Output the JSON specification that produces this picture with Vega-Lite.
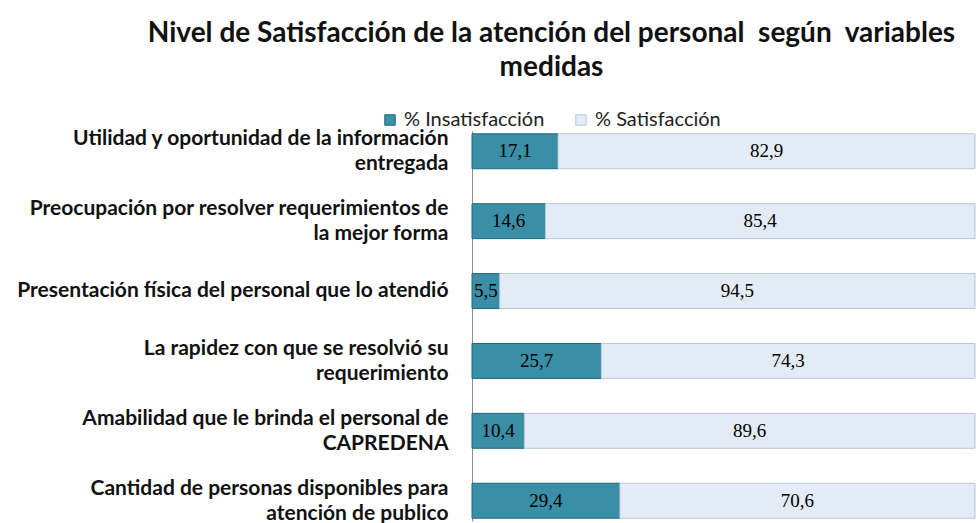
{
  "$schema": "https://vega.github.io/schema/vega-lite/v6.json",
  "width": 503,
  "height": 390,
  "autosize": {"type": "none"},
  "padding": {"left": 472, "top": 131, "right": 4, "bottom": 2},
  "background": "white",
  "config": {
    "view": {"stroke": null},
    "locale": {"number": {"decimal": ",", "thousands": ".", "grouping": [3], "currency": ["", " €"]}},
    "font": "Lato"
  },
  "title": {
    "text": ["Nivel de Satisfacción de la atención del personal \u00a0según \u00a0variables", "medidas"],
    "font": "Lato",
    "fontSize": 28,
    "fontWeight": "bold",
    "color": "#111111",
    "anchor": "middle",
    "frame": "group",
    "dx": -172,
    "offset": 28,
    "lineHeight": 34
  },
  "data": {
    "values": [
      {"variable": "Utilidad y oportunidad de la información\nentregada", "tipo": "% Insatisfacción", "valor": 17.1},
      {"variable": "Utilidad y oportunidad de la información\nentregada", "tipo": "% Satisfacción", "valor": 82.9},
      {"variable": "Preocupación por resolver requerimientos de\nla mejor forma", "tipo": "% Insatisfacción", "valor": 14.6},
      {"variable": "Preocupación por resolver requerimientos de\nla mejor forma", "tipo": "% Satisfacción", "valor": 85.4},
      {"variable": "Presentación física del personal que lo atendió", "tipo": "% Insatisfacción", "valor": 5.5},
      {"variable": "Presentación física del personal que lo atendió", "tipo": "% Satisfacción", "valor": 94.5},
      {"variable": "La rapidez con que se resolvió su\nrequerimiento", "tipo": "% Insatisfacción", "valor": 25.7},
      {"variable": "La rapidez con que se resolvió su\nrequerimiento", "tipo": "% Satisfacción", "valor": 74.3},
      {"variable": "Amabilidad que le brinda el personal de\nCAPREDENA", "tipo": "% Insatisfacción", "valor": 10.4},
      {"variable": "Amabilidad que le brinda el personal de\nCAPREDENA", "tipo": "% Satisfacción", "valor": 89.6},
      {"variable": "Cantidad de personas disponibles para\natención de publico", "tipo": "% Insatisfacción", "valor": 29.4},
      {"variable": "Cantidad de personas disponibles para\natención de publico", "tipo": "% Satisfacción", "valor": 70.6}
    ]
  },
  "encoding": {
    "y": {
      "field": "variable",
      "type": "nominal",
      "sort": null,
      "scale": {"paddingInner": 0.5, "paddingOuter": 0.04},
      "axis": {
        "title": null,
        "ticks": false,
        "domainColor": "#8c8c8c",
        "labelExpr": "split(datum.label, '\\n')",
        "labelFont": "Lato",
        "labelFontSize": 21,
        "labelFontWeight": "bold",
        "labelColor": "#111111",
        "labelLimit": 0,
        "labelPadding": 24,
        "labelLineHeight": 25,
        "labelOffset": {"condition": {"test": "indexof(datum.value, '\\n') >= 0", "value": -12}, "value": 0}
      }
    }
  },
  "layer": [
    {
      "mark": {"type": "bar", "strokeWidth": 1},
      "encoding": {
        "x": {"field": "valor", "type": "quantitative", "stack": "zero", "scale": {"domain": [0, 100]}, "axis": null},
        "order": {"field": "tipo", "sort": "ascending"},
        "color": {
          "field": "tipo",
          "type": "nominal",
          "scale": {"domain": ["% Insatisfacción", "% Satisfacción"], "range": ["#3a8ea6", "#e3ebf6"]},
          "legend": {
            "title": null,
            "orient": "none",
            "direction": "horizontal",
            "legendX": -92,
            "legendY": -21,
            "symbolType": "square",
            "symbolSize": 110,
            "symbolStrokeWidth": 1,
            "labelFont": "Lato",
            "labelFontSize": 20,
            "labelColor": "#222222",
            "labelOffset": 4,
            "columnPadding": 26
          }
        },
        "stroke": {
          "field": "tipo",
          "type": "nominal",
          "scale": {"domain": ["% Insatisfacción", "% Satisfacción"], "range": ["#1f6a7e", "#b9c7da"]},
          "legend": null
        }
      }
    },
    {
      "mark": {
        "type": "text",
        "font": "Liberation Serif",
        "fontSize": 19,
        "color": "#000000",
        "dx": {"expr": "-(scale('x', datum.valor) - scale('x', 0)) / 2"}
      },
      "encoding": {
        "x": {"field": "valor", "type": "quantitative", "stack": "zero"},
        "order": {"field": "tipo", "sort": "ascending"},
        "detail": {"field": "tipo"},
        "text": {"field": "valor", "type": "quantitative", "format": ".1f"}
      }
    }
  ]
}
